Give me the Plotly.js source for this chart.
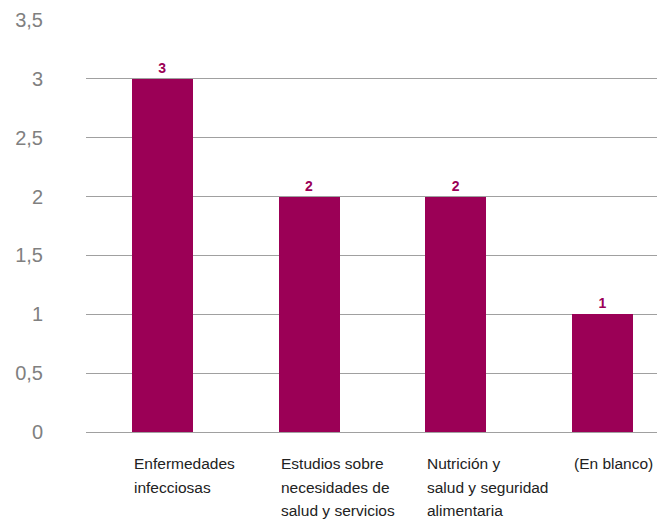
<!DOCTYPE html>
<html>
<head>
<meta charset="utf-8">
<script src="https://cdn.plot.ly/plotly-3.0.1.min.js"></script>
<style>html,body{margin:0;padding:0;background:#fff;}#chart{width:657px;height:520px;}</style>
</head>
<body>
<div id="chart"></div>
<script>
const categories = ["Enfermedades infecciosas", "Estudios sobre necesidades de salud y servicios", "Nutrición y salud y seguridad alimentaria", "(En blanco)"];
const labelLines = [["Enfermedades", "infecciosas"], ["Estudios sobre", "necesidades de", "salud y servicios"], ["Nutrición y", "salud y seguridad", "alimentaria"], ["(En blanco)"]];
const values = [3, 2, 2, 1];
const tickVals = [0, 0.5, 1, 1.5, 2, 2.5, 3, 3.5];
const tickText = ["0", "0,5", "1", "1,5", "2", "2,5", "3", "3,5"];

const barColor = "#9B0056";
const barWidth = 0.415;
const xs = categories.map((c, i) => i);

const annotations = [];
labelLines.forEach((lines, i) => {
  lines.forEach((ln, j) => {
    annotations.push({
      x: xs[i] - barWidth / 2, xref: "x", xanchor: "left",
      y: 0, yref: "y", yanchor: "top", yshift: -21 - j * 23.5,
      text: ln, showarrow: false, align: "left",
      font: {family: "Liberation Sans, Arial, sans-serif", size: 15.5, color: "#222"}
    });
  });
});

const trace = {
  type: "bar", x: xs, y: values, width: barWidth,
  marker: {color: barColor},
  text: values.map(String), textposition: "outside", cliponaxis: false,
  textfont: {family: "Liberation Sans, Arial, sans-serif", size: 14, color: barColor, weight: "bold"},
  hoverinfo: "skip"
};

const layout = {
  width: 657, height: 520,
  margin: {l: 86, r: 0, t: 20, b: 88},
  paper_bgcolor: "#fff", plot_bgcolor: "#fff",
  showlegend: false,
  bargap: 0,
  xaxis: {range: [-0.52, 3.371], showticklabels: false, showgrid: false, zeroline: false, showline: false, ticks: ""},
  yaxis: {range: [0, 3.5], tickvals: tickVals, ticktext: tickText, showgrid: true, gridcolor: "#a0a0a0", gridwidth: 1,
          zeroline: true, zerolinecolor: "#a0a0a0", zerolinewidth: 1, showline: false, ticks: "",
          ticklabelstandoff: 42,
          tickfont: {family: "Liberation Sans, Arial, sans-serif", size: 20, color: "#808080"}},
  annotations: annotations,
  uniformtext: {mode: false}
};

Plotly.newPlot("chart", [trace], layout, {staticPlot: true, displayModeBar: false});
</script>
</body>
</html>
